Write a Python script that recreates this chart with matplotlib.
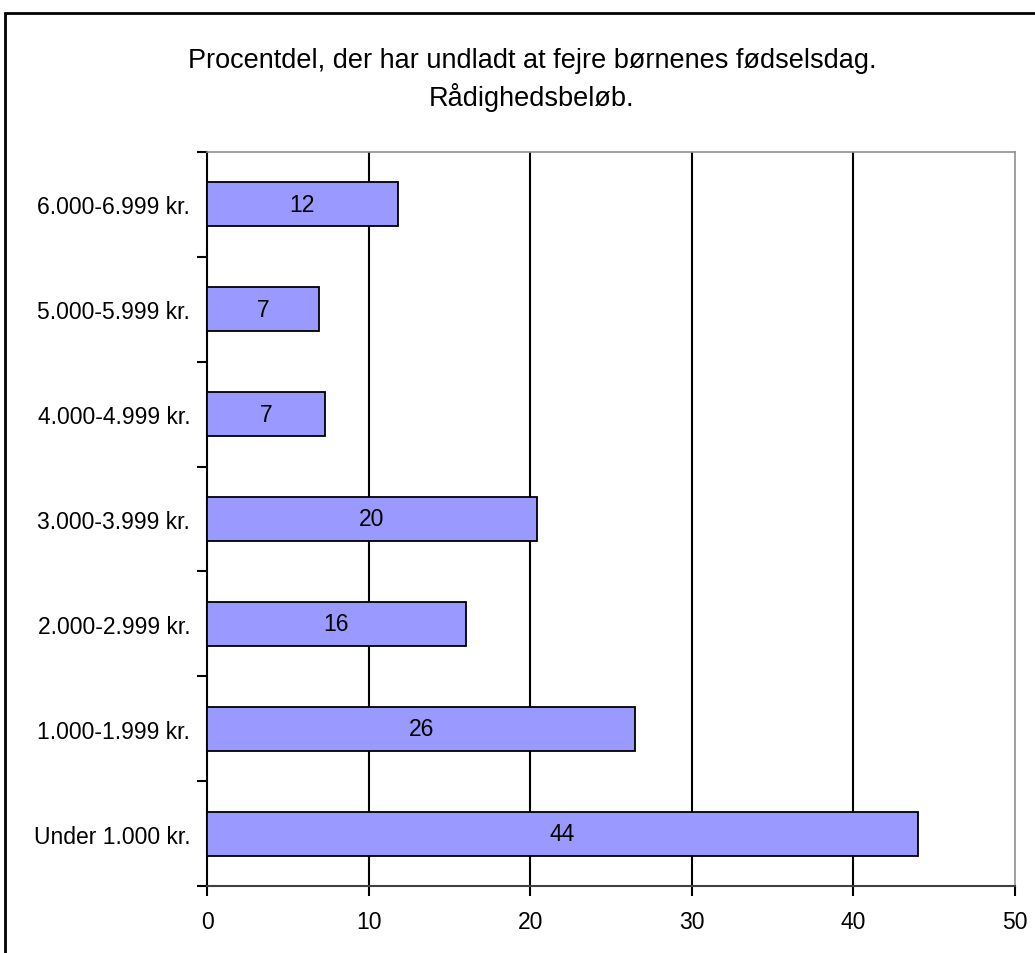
import matplotlib
matplotlib.use("Agg")
import matplotlib.pyplot as plt
from matplotlib.patches import Rectangle

plt.rcParams['font.family'] = ['Liberation Sans', 'DejaVu Sans']

categories = ["Under 1.000 kr.", "1.000-1.999 kr.", "2.000-2.999 kr.", "3.000-3.999 kr.",
              "4.000-4.999 kr.", "5.000-5.999 kr.", "6.000-6.999 kr."]
values = [44.0, 26.5, 16.0, 20.4, 7.3, 6.9, 11.8]
value_labels = ["44", "26", "16", "20", "7", "7", "12"]
x_ticks = [0, 10, 20, 30, 40, 50]
title = "Procentdel, der har undladt at fejre børnenes fødselsdag.\nRådighedsbeløb."

W, H = 1035, 954
fig = plt.figure(figsize=(W / 100, H / 100), dpi=100)
ax = fig.add_axes([207 / W, 1 - 887 / H, (1015 - 207) / W, (887 - 153) / H])

ypos = list(range(len(categories)))
ax.barh(ypos, values, height=0.42, color="#9999FF", edgecolor="black", linewidth=1.3, zorder=3)
for y, v, lab in zip(ypos, values, value_labels):
    ax.text(v / 2, y, lab, ha="center", va="center", fontsize=16.5, color="black", zorder=4)

ax.set_xlim(0, 50)
ax.set_ylim(-0.5, len(categories) - 0.5)
ax.set_xticks(x_ticks)
ax.set_xticklabels([str(t) for t in x_ticks], fontsize=16.5)
ax.set_yticks(ypos)
ax.set_yticklabels(categories, fontsize=16.5)
ax.tick_params(axis="y", which="major", length=0, pad=12)
ax.set_yticks([y - 0.5 for y in range(len(categories) + 1)], minor=True)
ax.tick_params(axis="y", which="minor", length=7, width=1.5, direction="out", color="black")
ax.tick_params(axis="x", which="major", length=7, width=1.5, direction="out", pad=10, color="black")

for xv in x_ticks[1:-1]:
    ax.axvline(xv, color="black", linewidth=1.5, zorder=1)

ax.spines["left"].set_color("black")
ax.spines["left"].set_linewidth(1.5)
ax.spines["bottom"].set_color("#404040")
ax.spines["bottom"].set_linewidth(1.5)
ax.spines["top"].set_color("#909090")
ax.spines["top"].set_linewidth(1.2)
ax.spines["right"].set_color("#909090")
ax.spines["right"].set_linewidth(1.2)

fig.text(532 / W, 1 - 80 / H, title, ha="center", va="center", fontsize=19.5, linespacing=1.35)

frame = Rectangle((5 / W, -0.1), 1.2, 1 - 14 / H + 0.1, transform=fig.transFigure,
                  fill=False, edgecolor="black", linewidth=2, clip_on=False)
fig.patches.append(frame)

fig.savefig("out.png", dpi=100)
